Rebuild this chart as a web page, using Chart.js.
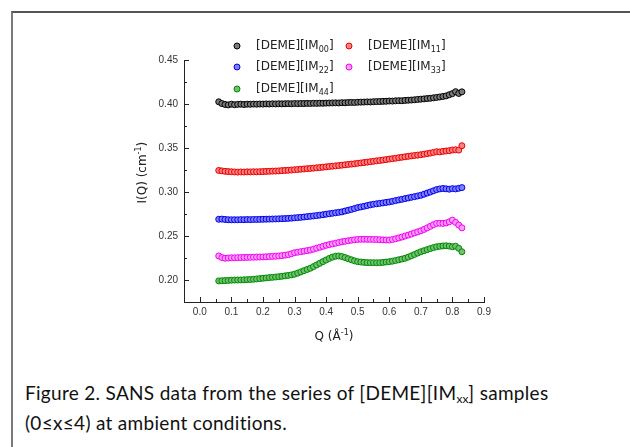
<!DOCTYPE html>
<html>
<head>
<meta charset="utf-8">
<script src="https://cdn.jsdelivr.net/npm/chart.js@4"></script>
<style>
  html, body { margin: 0; padding: 0; background: #fff; }
  #page { position: relative; width: 630px; height: 447px; overflow: hidden; }
  #frame { position: absolute; left: 11px; top: 11px; width: 640px; height: 460px;
           border-top: 2px solid #555; border-left: 2px solid #7a7a7a; }
  #chart { position: absolute; left: 0; top: 0; }
  #caption { position: absolute; left: 25px; top: 378px; font-family: Lato, "Open Sans", sans-serif;
             font-size: 19px; letter-spacing: 0.3px; line-height: 30px; color: #111; white-space: nowrap; }
  #caption sub { font-size: 12px; vertical-align: -3px; line-height: 0; letter-spacing: 0; }
</style>
</head>
<body>
<div id="page">
  <div id="frame"></div>
  <canvas id="chart" width="630" height="360"></canvas>
  <div id="caption">Figure 2. SANS data from the series of [DEME][IM<sub>xx</sub>] samples<br>(0≤x≤4) at ambient conditions.</div>
</div>
<script>
// Q values (1/Å), shared by all five samples
const qValues = [0.06,0.07,0.08,0.09,0.10,0.11,0.12,0.13,0.14,0.15,0.16,0.17,0.18,0.19,0.20,0.21,0.22,0.23,0.24,0.25,
  0.26,0.27,0.28,0.29,0.30,0.31,0.32,0.33,0.34,0.35,0.36,0.37,0.38,0.39,0.40,0.41,0.42,0.43,0.44,0.45,
  0.46,0.47,0.48,0.49,0.50,0.51,0.52,0.53,0.54,0.55,0.56,0.57,0.58,0.59,0.60,0.61,0.62,0.63,0.64,0.65,
  0.66,0.67,0.68,0.69,0.70,0.71,0.72,0.73,0.74,0.75,0.76,0.77,0.78,0.79,0.80,0.81,0.82,0.83];

const im00 = [.4025,.4005,.3995,.3990,.3998,.3992,.3996,.3998,.3994,.3998,.3997,.3999,.3998,.4000,.3999,.4001,.4000,.4002,.4001,.4003,
  .4002,.4003,.4004,.4003,.4005,.4004,.4006,.4005,.4007,.4006,.4008,.4007,.4009,.4008,.4010,.4011,.4012,.4013,.4012,.4015,
  .4014,.4017,.4018,.4017,.4020,.4021,.4022,.4024,.4023,.4026,.4027,.4028,.4030,.4031,.4034,.4033,.4036,.4038,.4037,.4041,
  .4043,.4045,.4048,.4052,.4055,.4058,.4062,.4065,.4070,.4075,.4080,.4086,.4092,.4105,.4118,.4140,.4120,.4138];

const im11 = [.3245,.3240,.3235,.3232,.3230,.3228,.3226,.3228,.3227,.3229,.3228,.3230,.3229,.3231,.3232,.3234,.3235,.3237,.3238,.3240,
  .3243,.3245,.3247,.3250,.3253,.3256,.3259,.3262,.3265,.3268,.3271,.3275,.3278,.3282,.3286,.3290,.3293,.3297,.3301,.3305,
  .3309,.3313,.3317,.3321,.3326,.3330,.3335,.3339,.3344,.3349,.3354,.3358,.3363,.3368,.3374,.3379,.3384,.3390,.3395,.3400,
  .3405,.3410,.3415,.3419,.3424,.3430,.3436,.3442,.3450,.3458,.3455,.3462,.3466,.3470,.3477,.3480,.3476,.3526];

const im22 = [.2690,.2692,.2688,.2685,.2684,.2685,.2684,.2686,.2685,.2687,.2686,.2688,.2688,.2689,.2690,.2691,.2692,.2693,.2694,.2695,
  .2697,.2698,.2700,.2703,.2706,.2709,.2712,.2716,.2720,.2724,.2728,.2732,.2737,.2742,.2748,.2753,.2758,.2764,.2769,.2774,
  .2784,.2793,.2802,.2812,.2823,.2830,.2838,.2846,.2854,.2861,.2866,.2871,.2876,.2882,.2887,.2894,.2902,.2910,.2917,.2925,
  .2932,.2940,.2947,.2955,.2963,.2975,.2988,.3000,.3014,.3027,.3035,.3040,.3036,.3032,.3038,.3035,.3042,.3050];

const im33 = [.2273,.2255,.2247,.2250,.2253,.2252,.2254,.2255,.2256,.2257,.2258,.2259,.2260,.2261,.2262,.2264,.2266,.2268,.2270,.2273,
  .2277,.2282,.2288,.2298,.2310,.2316,.2322,.2328,.2334,.2340,.2350,.2361,.2372,.2383,.2394,.2402,.2410,.2418,.2426,.2434,
  .2440,.2446,.2452,.2457,.2461,.2463,.2463,.2462,.2462,.2461,.2460,.2458,.2456,.2455,.2454,.2460,.2468,.2478,.2488,.2499,
  .2510,.2522,.2535,.2547,.2559,.2575,.2592,.2610,.2628,.2643,.2645,.2643,.2648,.2661,.2680,.2655,.2625,.2593];

const im44 = [.1990,.1992,.1993,.1995,.1998,.1999,.2000,.2001,.2002,.2004,.2006,.2008,.2012,.2016,.2020,.2023,.2027,.2030,.2034,.2038,
  .2042,.2047,.2052,.2058,.2066,.2078,.2092,.2106,.2120,.2133,.2152,.2171,.2190,.2209,.2227,.2245,.2260,.2270,.2273,.2266,
  .2255,.2242,.2230,.2218,.2208,.2204,.2200,.2198,.2197,.2197,.2196,.2197,.2200,.2204,.2208,.2214,.2222,.2230,.2238,.2247,
  .2260,.2275,.2290,.2306,.2321,.2333,.2345,.2357,.2368,.2378,.2383,.2387,.2389,.2385,.2378,.2384,.2360,.2321];

const seriesNames = ['00', '11', '22', '33', '44'];
const seriesValues = [im00, im11, im22, im33, im44];
const seriesColors = ['#000000', '#e60000', '#0000e6', '#f000f0', '#008a00'];
const seriesFills = ['#7a7a7a', '#ff8080', '#8080ff', '#ff9cff', '#70c070'];

const xTicks = [0.0, 0.1, 0.2, 0.3, 0.4, 0.5, 0.6, 0.7, 0.8, 0.9];
const xMinorTicks = [0.05, 0.15, 0.25, 0.35, 0.45, 0.55, 0.65, 0.75, 0.85];
const yTicks = [0.20, 0.25, 0.30, 0.35, 0.40, 0.45];
const yMinorTicks = [0.175, 0.225, 0.275, 0.325, 0.375, 0.425];

const datasets = seriesValues.map((vals, i) => ({
    label: '[DEME][IM' + seriesNames[i] + ']',
    sub: seriesNames[i],
    data: qValues.map((q, j) => ({ x: q, y: vals[j] })),
    borderColor: seriesColors[i],
    backgroundColor: seriesFills[i],
    pointRadius: 3,
    pointBorderWidth: 1,
    showLine: false
}));

// inward tick marks, axis titles and the two-column legend
const decorations = {
    id: 'decorations',
    afterDraw(chart) {
        const ctx = chart.ctx;
        const xs = chart.scales.x, ys = chart.scales.y;
        const area = chart.chartArea;
        ctx.save();
        ctx.strokeStyle = '#222';
        ctx.lineWidth = 1;
        ctx.beginPath();
        xTicks.forEach(v => { const px = Math.round(xs.getPixelForValue(v)) + 0.5; ctx.moveTo(px, area.bottom); ctx.lineTo(px, area.bottom - 5); });
        xMinorTicks.forEach(v => { const px = Math.round(xs.getPixelForValue(v)) + 0.5; ctx.moveTo(px, area.bottom); ctx.lineTo(px, area.bottom - 3); });
        yTicks.forEach(v => { const py = Math.round(ys.getPixelForValue(v)) + 0.5; ctx.moveTo(area.left, py); ctx.lineTo(area.left + 5, py); });
        yMinorTicks.forEach(v => { const py = Math.round(ys.getPixelForValue(v)) + 0.5; ctx.moveTo(area.left, py); ctx.lineTo(area.left + 3, py); });
        ctx.stroke();

        // axis titles
        ctx.fillStyle = '#222';
        ctx.font = '12px "DejaVu Sans"';
        ctx.textBaseline = 'middle';
        ctx.textAlign = 'left';
        const qx = (area.left + area.right) / 2, qy = area.bottom + 35;
        const qTxt = 'Q (Å', qW = ctx.measureText(qTxt).width;
        ctx.font = '8px "DejaVu Sans"';
        const supW = ctx.measureText('-1').width;
        ctx.font = '12px "DejaVu Sans"';
        const closeW = ctx.measureText(')').width;
        let sx = qx - (qW + supW + closeW) / 2;
        ctx.fillText(qTxt, sx, qy);
        ctx.font = '8px "DejaVu Sans"';
        ctx.fillText('-1', sx + qW, qy - 4);
        ctx.font = '12px "DejaVu Sans"';
        ctx.fillText(')', sx + qW + supW, qy);

        ctx.save();
        ctx.translate(area.left - 41, ys.getPixelForValue(0.322));
        ctx.rotate(-Math.PI / 2);
        const iTxt = 'I(Q) (cm', iW = ctx.measureText(iTxt).width;
        sx = -(iW + supW + closeW) / 2;
        ctx.fillText(iTxt, sx, 0);
        ctx.font = '8px "DejaVu Sans"';
        ctx.fillText('-1', sx + iW, -4);
        ctx.font = '12px "DejaVu Sans"';
        ctx.fillText(')', sx + iW + supW, 0);
        ctx.restore();

        // legend
        const cols = [area.left + 53, area.left + 165];
        const rows = [area.top - 14, area.top + 7, area.top + 29];
        chart.data.datasets.forEach((ds, i) => {
            const mx = cols[i % 2], my = rows[Math.floor(i / 2)];
            ctx.beginPath();
            ctx.arc(mx, my, 3, 0, Math.PI * 2);
            ctx.fillStyle = ds.backgroundColor;
            ctx.fill();
            ctx.strokeStyle = ds.borderColor;
            ctx.stroke();
            ctx.fillStyle = '#222';
            ctx.font = '12px "DejaVu Sans"';
            let tx = mx + 19;
            ctx.fillText('[DEME][IM', tx, my);
            tx += ctx.measureText('[DEME][IM').width;
            ctx.font = '8px "DejaVu Sans"';
            ctx.fillText(ds.sub, tx, my + 4);
            tx += ctx.measureText(ds.sub).width;
            ctx.font = '12px "DejaVu Sans"';
            ctx.fillText(']', tx, my);
        });
        ctx.restore();
    }
};

new Chart(document.getElementById('chart'), {
    type: 'scatter',
    data: { datasets: datasets },
    options: {
        responsive: false,
        animation: false,
        layout: { padding: { top: 60, right: 146, left: 0, bottom: 0 } },
        plugins: { legend: { display: false }, tooltip: { enabled: false } },
        scales: {
            x: {
                type: 'linear',
                min: -0.05,
                max: 0.9,
                afterBuildTicks: s => { s.ticks = xTicks.map(v => ({ value: v })); },
                afterFit: s => { s.height = 58; },
                grid: { display: false, drawTicks: false },
                border: { display: true, color: '#222', width: 1 },
                ticks: {
                    padding: 4,
                    color: '#333',
                    font: { family: '"Liberation Sans"', size: 10 },
                    maxRotation: 0,
                    callback: v => v.toFixed(1)
                }
            },
            y: {
                type: 'linear',
                min: 0.175,
                max: 0.45,
                afterBuildTicks: s => { s.ticks = yTicks.map(v => ({ value: v })); },
                afterFit: s => { s.width = 184; },
                grid: { display: false, drawTicks: false },
                border: { display: true, color: '#222', width: 1 },
                ticks: {
                    padding: 6,
                    color: '#333',
                    font: { family: '"Liberation Sans"', size: 10 },
                    callback: v => v.toFixed(2)
                }
            }
        }
    },
    plugins: [decorations]
});
</script>
</body>
</html>
